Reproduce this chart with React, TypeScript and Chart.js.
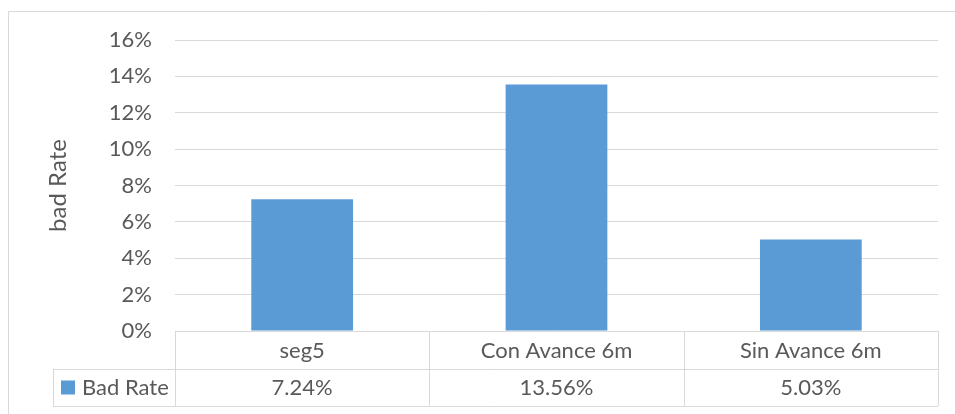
import { useEffect, useRef } from "react";
import { Chart, registerables } from "chart.js";

Chart.register(...registerables);

// Chart data
const categories = ["seg5", "Con Avance 6m", "Sin Avance 6m"];
const seriesName = "Bad Rate";
const badRate = [0.0724, 0.1356, 0.0503];
const badRateLabels = ["7.24%", "13.56%", "5.03%"];
const axisTitle = "bad Rate";
const yMin = 0;
const yMax = 0.16;
const yStep = 0.02;

const TEXT = "#595959";
const LINE = "#d9d9d9";
const BAR = "#5b9bd5";
const FONT_FAMILY = "Lato, Carlito, 'Open Sans', sans-serif";
const FONT_SIZE = 22;
const TITLE_SIZE = 24;

// Frame around the chart (left and top edges visible in the view)
const framePlugin = {
  id: "frame",
  beforeDraw(chart: any) {
    const { ctx } = chart;
    ctx.save();
    ctx.strokeStyle = LINE;
    ctx.lineWidth = 1;
    ctx.beginPath();
    ctx.moveTo(8.5, chart.height);
    ctx.lineTo(8.5, 11.5);
    ctx.lineTo(chart.width, 11.5);
    ctx.stroke();
    ctx.restore();
  },
};

// Excel-style data table under the plot, with legend key
const dataTablePlugin = {
  id: "dataTable",
  afterDraw(chart: any) {
    const { ctx, chartArea } = chart;
    const xs = chart.scales.x;
    const left = chartArea.left;
    const right = chartArea.right;
    const top = chartArea.bottom;
    const rowH = 37.5;
    const mid = top + rowH;
    const bottom = top + rowH * 2;
    const legendLeft = 53;
    const n = categories.length;
    const colW = (right - left) / n;

    ctx.save();
    ctx.strokeStyle = LINE;
    ctx.lineWidth = 1;
    ctx.beginPath();
    // horizontal rules
    ctx.moveTo(left, Math.round(top) + 0.5);
    ctx.lineTo(right, Math.round(top) + 0.5);
    ctx.moveTo(legendLeft, Math.round(mid) + 0.5);
    ctx.lineTo(right, Math.round(mid) + 0.5);
    ctx.moveTo(legendLeft, Math.round(bottom) + 0.5);
    ctx.lineTo(right, Math.round(bottom) + 0.5);
    // vertical rules
    for (let i = 0; i <= n; i++) {
      const x = Math.round(left + i * colW) + 0.5;
      ctx.moveTo(x, top);
      ctx.lineTo(x, bottom);
    }
    ctx.moveTo(legendLeft + 0.5, mid);
    ctx.lineTo(legendLeft + 0.5, bottom);
    ctx.stroke();

    ctx.fillStyle = TEXT;
    ctx.font = `${FONT_SIZE}px ${FONT_FAMILY}`;
    ctx.textAlign = "center";
    ctx.textBaseline = "middle";
    categories.forEach((c, i) => {
      const cx = xs.getPixelForValue(i);
      ctx.fillText(c, cx, top + rowH / 2 + 1);
      ctx.fillText(badRateLabels[i], cx, mid + rowH / 2 + 1);
    });

    // legend key
    ctx.fillStyle = BAR;
    ctx.fillRect(61, mid + 12, 14, 14);
    ctx.fillStyle = TEXT;
    ctx.textAlign = "left";
    ctx.fillText(seriesName, 82, mid + rowH / 2 + 1);
    ctx.restore();
  },
};

export default function App() {
  const canvasRef = useRef<HTMLCanvasElement | null>(null);

  useEffect(() => {
    if (!canvasRef.current) return;
    const chart = new Chart(canvasRef.current, {
      type: "bar",
      data: {
        labels: categories,
        datasets: [
          {
            label: seriesName,
            data: badRate,
            backgroundColor: BAR,
            borderWidth: 0,
            categoryPercentage: 1,
            barPercentage: 0.4,
          },
        ],
      },
      options: {
        animation: false,
        responsive: false,
        devicePixelRatio: 1,
        layout: { padding: { top: 40, right: 17, bottom: 83, left: 0 } },
        plugins: {
          legend: { display: false },
          tooltip: { enabled: false },
        },
        scales: {
          x: { display: false },
          y: {
            min: yMin,
            max: yMax,
            border: { display: false },
            grid: { color: LINE, lineWidth: 1, drawTicks: false },
            ticks: {
              stepSize: yStep,
              padding: 23,
              color: TEXT,
              font: { family: FONT_FAMILY, size: FONT_SIZE },
              callback: (v: any) => `${Math.round(Number(v) * 100)}%`,
            },
            title: {
              display: true,
              text: axisTitle,
              color: TEXT,
              font: { family: FONT_FAMILY, size: TITLE_SIZE },
              padding: { top: 44, bottom: 0 },
            },
            afterFit: (s: any) => {
              s.width = 175;
            },
          },
        },
      },
      plugins: [framePlugin, dataTablePlugin],
    });
    return () => chart.destroy();
  }, []);

  return (
    <div style={{ position: "absolute", left: 0, top: 0, width: 955, height: 414 }}>
      <canvas ref={canvasRef} width={955} height={414} style={{ display: "block" }} />
    </div>
  );
}
